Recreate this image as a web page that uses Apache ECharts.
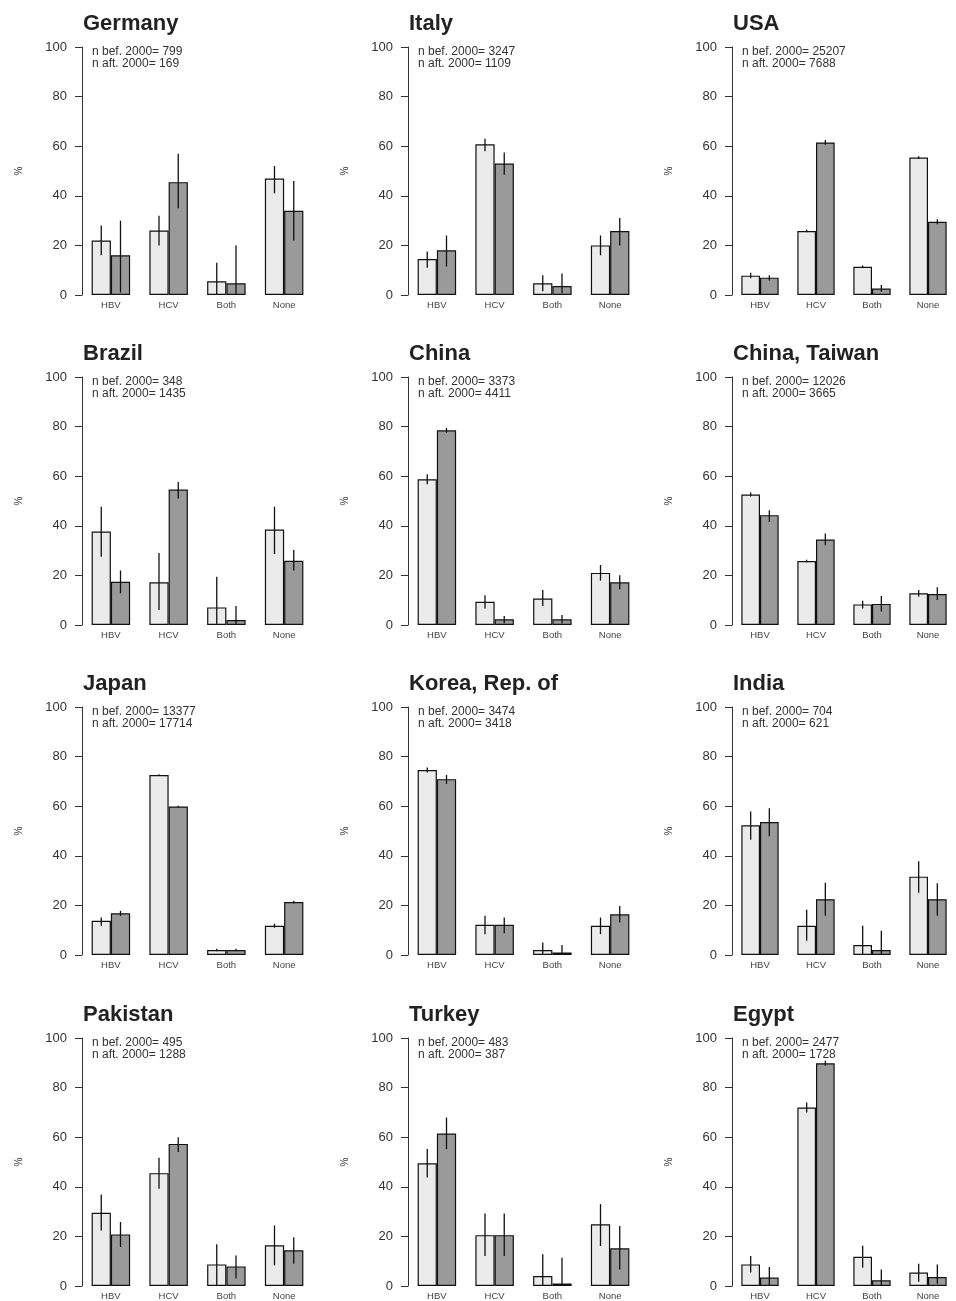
<!DOCTYPE html>
<html><head><meta charset="utf-8">
<script src="https://cdn.jsdelivr.net/npm/echarts@6/dist/echarts.min.js"></script>
<style>html,body{margin:0;padding:0;background:#fff}#c{width:956px;height:1301px}</style>
</head><body><div id="c"></div>
<script>
// ---------------- DATA ----------------
const categories = ['HBV', 'HCV', 'Both', 'None'];
const yTicks = [0, 20, 40, 60, 80, 100];
const countries = ['Germany', 'Italy', 'USA', 'Brazil', 'China', 'China, Taiwan',
  'Japan', 'Korea, Rep. of', 'India', 'Pakistan', 'Turkey', 'Egypt'];
const nBefore = [799, 3247, 25207, 348, 3373, 12026, 13377, 3474, 704, 495, 483, 2477];
const nAfter = [169, 1109, 7688, 1435, 4411, 3665, 17714, 3418, 621, 1288, 387, 1728];

// % before 2000 / after 2000, with [low, high] intervals
const germanyBef = [22, 26, 5.5, 47];
const germanyBefCI = [[16, 28], [20, 32], [0, 13], [41, 52]];
const germanyAft = [16, 45.5, 4.7, 34];
const germanyAftCI = [[1, 30], [35, 57], [0, 20], [22, 46]];

const italyBef = [14.5, 60.8, 4.7, 20];
const italyBefCI = [[11, 17.5], [58, 63], [1.5, 8], [16, 24]];
const italyAft = [18, 53, 3.6, 25.8];
const italyAftCI = [[11.5, 24], [48.5, 57.5], [0.7, 8.7], [20, 31]];

const usaBef = [7.8, 25.8, 11.4, 55.4];
const usaBefCI = [[6.8, 9], [25.3, 26.3], [10.9, 11.9], [54.9, 55.9]];
const usaAft = [7, 61.5, 2.6, 29.5];
const usaAftCI = [[5.8, 8], [60.5, 62.5], [1.3, 4], [28.5, 30.5]];

const brazilBef = [37.7, 17.2, 7.1, 38.5];
const brazilBefCI = [[27.5, 47.7], [6, 29], [0, 19.5], [28.6, 47.7]];
const brazilAft = [17.4, 54.6, 2, 25.9];
const brazilAftCI = [[12.8, 22], [51, 57.7], [0, 7.7], [22, 30.2]];

const chinaBef = [58.8, 9.4, 10.7, 21];
const chinaBefCI = [[56.8, 60.8], [6.7, 12], [7.7, 14.1], [17.9, 24.2]];
const chinaAft = [78.5, 2.3, 2.3, 17.2];
const chinaAftCI = [[77.5, 79.5], [0.7, 3.6], [0.7, 4], [14.4, 20.1]];

const taiwanBef = [52.6, 25.8, 8.3, 12.8];
const taiwanBefCI = [[51.8, 53.4], [25.3, 26.3], [6.7, 9.8], [11.4, 14.1]];
const taiwanAft = [44.3, 34.5, 8.5, 12.5];
const taiwanAftCI = [[41.6, 46.3], [32.2, 36.9], [5.4, 11.7], [10.1, 15.2]];

const japanBef = [13.8, 72.6, 2, 11.8];
const japanBefCI = [[11.8, 15.1], [72.3, 72.9], [1.5, 2.5], [11, 12.6]];
const japanAft = [16.8, 59.9, 2, 21.4];
const japanAftCI = [[15.8, 17.8], [59.6, 60.2], [1.5, 2.5], [20.9, 21.9]];

const koreaBef = [74.6, 12.2, 2, 11.8];
const koreaBefCI = [[73.6, 75.6], [8.4, 15.8], [0.4, 5], [8.4, 15.1]];
const koreaAft = [70.9, 12.2, 1, 16.4];
const koreaAftCI = [[69, 72.6], [8.8, 15.1], [0, 4], [13.1, 19.8]];

const indiaBef = [52.3, 11.8, 4, 31.6];
const indiaBefCI = [[46.5, 57.9], [5.7, 18.2], [0, 11.8], [25.1, 37.8]];
const indiaAft = [53.6, 22.5, 2, 22.5];
const indiaAftCI = [[47.9, 59.2], [15.8, 29.1], [0, 9.8], [15.8, 28.9]];

const pakistanBef = [29.5, 45.5, 8.7, 16.4];
const pakistanBefCI = [[22.4, 36.9], [39.2, 51.7], [0, 16.8], [8.3, 24.4]];
const pakistanAft = [20.8, 57.3, 7.9, 14.4];
const pakistanAftCI = [[15.7, 25.8], [54, 60], [3, 12.3], [9, 19.7]];

const turkeyBef = [49.5, 20.5, 4, 24.9];
const turkeyBefCI = [[43.7, 55.2], [12.1, 29.2], [0, 12.8], [16.1, 33]];
const turkeyAft = [61.5, 20.5, 1, 15.2];
const turkeyAftCI = [[55.2, 67.9], [12.1, 29.2], [0, 11.4], [6.7, 24.2]];

const egyptBef = [8.7, 72, 11.8, 5.4];
const egyptBefCI = [[5.4, 12.1], [70, 74], [7.4, 16.2], [1.7, 9]];
const egyptAft = [3.4, 89.8, 2.3, 3.6];
const egyptAftCI = [[0, 7.7], [88.8, 90.8], [0, 6.7], [0.9, 8.7]];

// ---------------- BUILD ----------------
const panels = [
  [germanyBef, germanyBefCI, germanyAft, germanyAftCI],
  [italyBef, italyBefCI, italyAft, italyAftCI],
  [usaBef, usaBefCI, usaAft, usaAftCI],
  [brazilBef, brazilBefCI, brazilAft, brazilAftCI],
  [chinaBef, chinaBefCI, chinaAft, chinaAftCI],
  [taiwanBef, taiwanBefCI, taiwanAft, taiwanAftCI],
  [japanBef, japanBefCI, japanAft, japanAftCI],
  [koreaBef, koreaBefCI, koreaAft, koreaAftCI],
  [indiaBef, indiaBefCI, indiaAft, indiaAftCI],
  [pakistanBef, pakistanBefCI, pakistanAft, pakistanAftCI],
  [turkeyBef, turkeyBefCI, turkeyAft, turkeyAftCI],
  [egyptBef, egyptBefCI, egyptAft, egyptAftCI]
];

const FONT = 'Liberation Sans, Arial, Helvetica, sans-serif';
const colLeft = [82, 408, 732];
const rowTop = [47, 377, 707, 1038];
const gridW = 231, gridH = 248;

function errRender(side) {
  return function (params, api) {
    const x = api.value(0), lo = api.value(1), hi = api.value(2);
    const pLo = api.coord([x, lo]);
    const pHi = api.coord([x, hi]);
    const band = api.size([1, 0])[0];
    const dx = side * band / 6;
    return {
      type: 'line',
      shape: { x1: pLo[0] + dx, y1: pLo[1], x2: pHi[0] + dx, y2: pHi[1] },
      style: { stroke: '#111', lineWidth: 1.3 }
    };
  };
}

const grid = [], xAxis = [], yAxis = [], series = [], title = [];
panels.forEach((p, i) => {
  const r = Math.floor(i / 3), c = i % 3;
  const L = colLeft[c], T = rowTop[r];
  grid.push({ left: L, top: T, width: gridW, height: gridH });
  xAxis.push({
    type: 'category', gridIndex: i, data: categories,
    axisLine: { show: false }, axisTick: { show: false },
    axisLabel: { fontSize: 9.5, color: '#444', margin: 5, fontFamily: FONT }
  });
  yAxis.push({
    type: 'value', gridIndex: i, min: yTicks[0], max: yTicks[yTicks.length - 1], interval: 20,
    axisLine: { show: true, lineStyle: { color: '#333', width: 1 } },
    axisTick: { show: true, length: 7, lineStyle: { color: '#333' } },
    axisLabel: { fontSize: 13, color: '#333', margin: 15, fontFamily: FONT },
    splitLine: { show: false },
    name: '%', nameLocation: 'middle', nameGap: 58, nameRotate: 90,
    nameTextStyle: { fontSize: 10, color: '#333', fontFamily: FONT }
  });
  series.push({
    type: 'bar', xAxisIndex: i, yAxisIndex: i, data: p[0],
    barGap: '0%', barCategoryGap: '33.333%',
    itemStyle: { color: '#ebebeb', borderColor: '#111', borderWidth: 1.2 },
    silent: true, animation: false
  });
  series.push({
    type: 'bar', xAxisIndex: i, yAxisIndex: i, data: p[2],
    barGap: '0%', barCategoryGap: '33.333%',
    itemStyle: { color: '#9a9a9a', borderColor: '#111', borderWidth: 1.2 },
    silent: true, animation: false
  });
  series.push({
    type: 'custom', xAxisIndex: i, yAxisIndex: i, z: 5,
    renderItem: errRender(-1), encode: { x: 0, y: [1, 2] },
    data: p[1].map((ci, k) => [k, ci[0], ci[1]]), silent: true, animation: false
  });
  series.push({
    type: 'custom', xAxisIndex: i, yAxisIndex: i, z: 5,
    renderItem: errRender(1), encode: { x: 0, y: [1, 2] },
    data: p[3].map((ci, k) => [k, ci[0], ci[1]]), silent: true, animation: false
  });
  title.push({
    text: countries[i], left: L + 1, top: T - 34, padding: 0,
    textStyle: { fontSize: 22, fontWeight: 'bold', color: '#222', fontFamily: FONT }
  });
  title.push({
    text: 'n bef. 2000= ' + nBefore[i] + '\nn aft. 2000= ' + nAfter[i],
    left: L + 10, top: T - 1, padding: 0,
    textStyle: { fontSize: 12, fontWeight: 'normal', color: '#333', lineHeight: 12, fontFamily: FONT }
  });
});

const chart = echarts.init(document.getElementById('c'), null, { renderer: 'canvas' });
chart.setOption({ animation: false, backgroundColor: '#fff', title, grid, xAxis, yAxis, series });
</script>
</body></html>
